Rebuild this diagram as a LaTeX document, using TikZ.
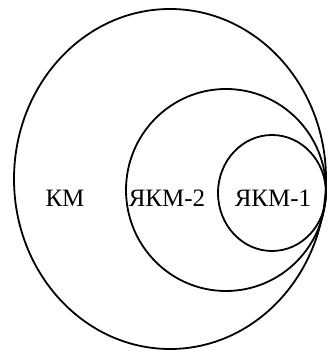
\documentclass[tikz,border=0pt]{standalone}
\usepackage{fontspec}
\setmainfont{Liberation Serif}
\begin{document}
\begin{tikzpicture}[x=1pt,y=1pt,
  ring/.style={draw=black,line width=1.8pt},
  lbl/.style={font=\fontsize{25}{29}\selectfont,inner sep=0pt,anchor=center}]
\useasboundingbox (0,0) rectangle (328,352);
\draw[ring] (170,173) ellipse [x radius=156, y radius=170];
\draw[ring] (226,162) ellipse [x radius=100, y radius=101];
\draw[ring] (272,159) ellipse [x radius=54, y radius=58];
\node[lbl] (km) at (65,154) {КМ};
\node[lbl] (ykm2) at (167,154) {ЯКМ-2};
\node[lbl] (ykm1) at (273,154) {ЯКМ-1};
\end{tikzpicture}
\end{document}
